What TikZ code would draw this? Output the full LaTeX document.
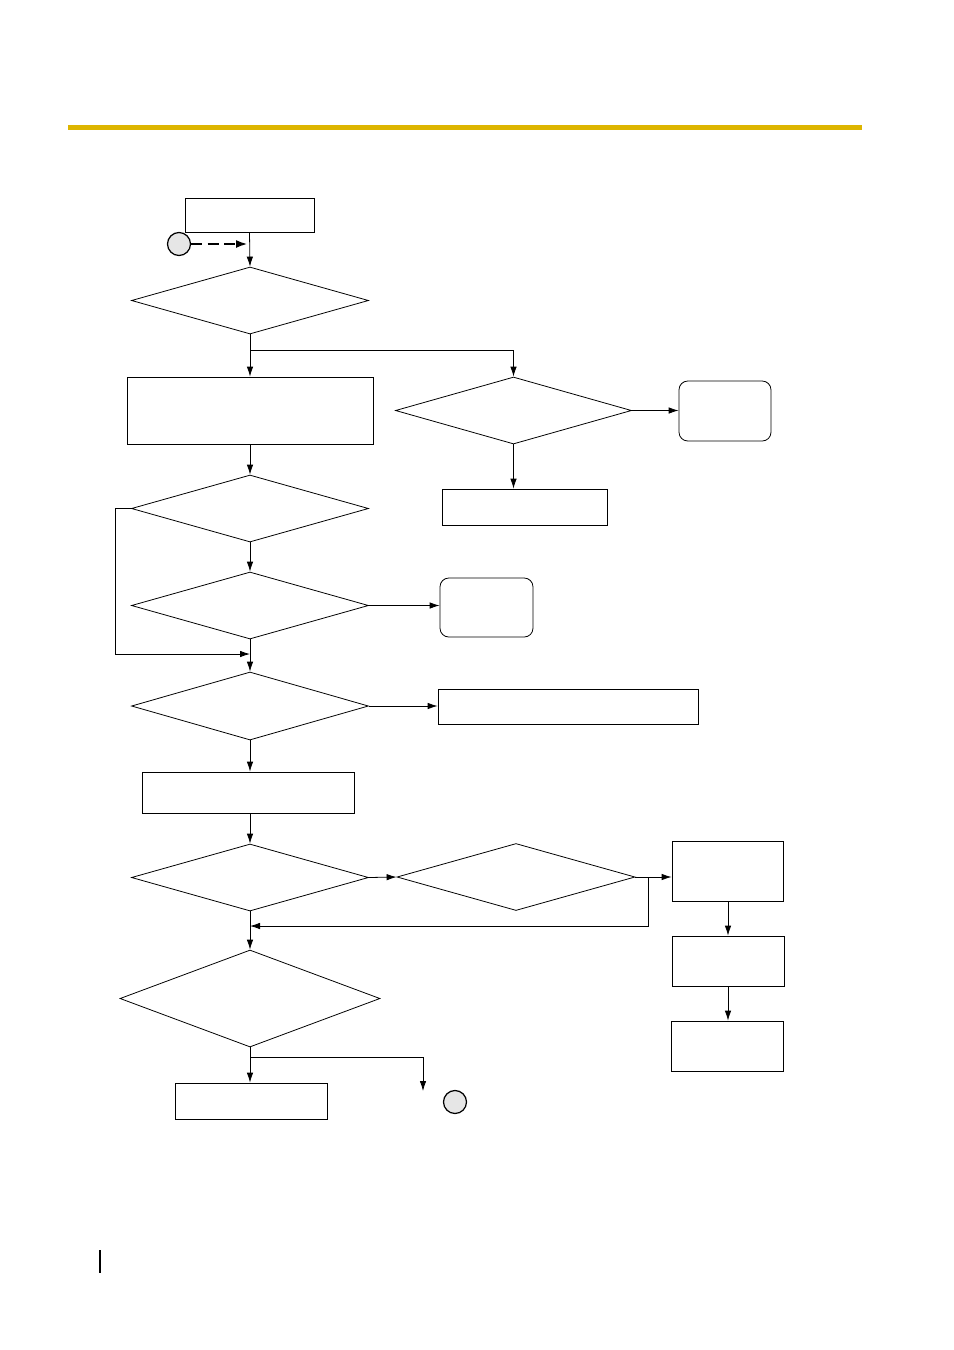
\documentclass[tikz,border=0pt]{standalone}
\usetikzlibrary{arrows.meta,shapes.geometric,calc}
\definecolor{rule}{HTML}{DDB500}
\definecolor{pale}{HTML}{E6E6E6}
\tikzset{procbox/.style 2 args={draw,line width=0.45pt,inner sep=0pt,minimum width=#1*0.02cm,minimum height=#2*0.02cm},
 roundbox/.style 2 args={procbox={#1}{#2},rounded corners=5pt},
 decision/.style 2 args={draw,diamond,line width=0.45pt,inner sep=0pt,minimum width=#1*0.02cm,minimum height=#2*0.02cm},
 offpage/.style={draw,circle,fill=pale,line width=0.7pt,inner sep=0pt,minimum size=0.46cm},
 flowarrow/.style={-{Latex[length=2mm,width=1.3mm]},line width=0.45pt}}
\begin{document}
\begin{tikzpicture}[x=0.02cm,y=-0.02cm]
\useasboundingbox (0,0) rectangle (954,1350);
\fill[rule] (68,125) rectangle (862,130);
\draw[line width=0.8pt] (100,1250)--(100,1273);
% main column
\node[procbox={129}{34}] (start) at (249.5,215) {};
\node[offpage] (conA) at (179,244) {};
\coordinate (entry) at (248,244);
\node[decision={237}{67}] (d1) at (250,300.5) {};
\node[procbox={246}{67}] (b1) at (250,410.5) {};
\node[decision={236}{67}] (d2) at (513.5,410.5) {};
\node[roundbox={92}{60}] (r1) at (725,411) {};
\node[procbox={165}{36}] (b2) at (524.5,507) {};
\node[decision={237}{67}] (d3) at (250,508.5) {};
\node[decision={237}{67}] (d4) at (250,605.5) {};
\node[roundbox={93}{59}] (r2) at (486.5,607.5) {};
\coordinate (join) at (250,654);
\node[decision={237}{68}] (d5) at (250,706) {};
\node[procbox={260}{35}] (b3) at (568,706.5) {};
\node[procbox={212}{41}] (b4) at (248,792.5) {};
\node[decision={237}{67}] (d6) at (250,877.5) {};
\node[decision={238}{67}] (d7) at (516,877) {};
\node[procbox={111}{60}] (b5) at (727.5,871) {};
\node[procbox={112}{50}] (b6) at (728,961) {};
\node[procbox={112}{50}] (b7) at (727.5,1046) {};
\coordinate (back) at (250,926);
\node[decision={260}{97}] (d8) at (250,998.5) {};
\node[procbox={152}{36}] (b8) at (251,1101) {};
\coordinate (exit) at (423,1091);
\node[offpage] (conB) at (455,1102) {};
% connectors
\draw[-{Latex[length=2.4mm,width=1.6mm]},line width=1.4pt,dash pattern=on 2.2mm off 1.1mm] (conA.east)--(entry);
\draw[flowarrow] (start.south)--(d1.north);
\draw[flowarrow] (d1.south)--(b1.north);
\draw[flowarrow] (d1.south) ++(0,16) -| (d2.north);
\draw[flowarrow] (d2.east)--(d2.east -| r1.west);
\draw[flowarrow] (d2.south)--(d2.south |- b2.north);
\draw[flowarrow] (b1.south)--(d3.north);
\draw[flowarrow] (d3.south)--(d4.north);
\draw[flowarrow] (d3.west) -- ++(-16,0) |- (join);
\draw[flowarrow] (d4.east)--(d4.east -| r2.west);
\draw[flowarrow] (d4.south)--(d5.north);
\draw[flowarrow] (d5.east)--(d5.east -| b3.west);
\draw[flowarrow] (d5.south)--(d5.south |- b4.north);
\draw[flowarrow] (b4.south -| d6.north)--(d6.north);
\draw[flowarrow] (d6.east)--(d7.west);
\draw[flowarrow] (d7.east)--(d7.east -| b5.west);
\draw[flowarrow] (d7.east) ++(13,0) |- (back);
\draw[flowarrow] (b6.north |- b5.south)--(b6.north);
\draw[flowarrow] (b6.south)--(b6.south |- b7.north);
\draw[flowarrow] (d6.south)--(d8.north);
\draw[flowarrow] (d8.south)--(d8.south |- b8.north);
\draw[flowarrow] (d8.south) ++(0,10) -| (exit);
\end{tikzpicture}
\end{document}
